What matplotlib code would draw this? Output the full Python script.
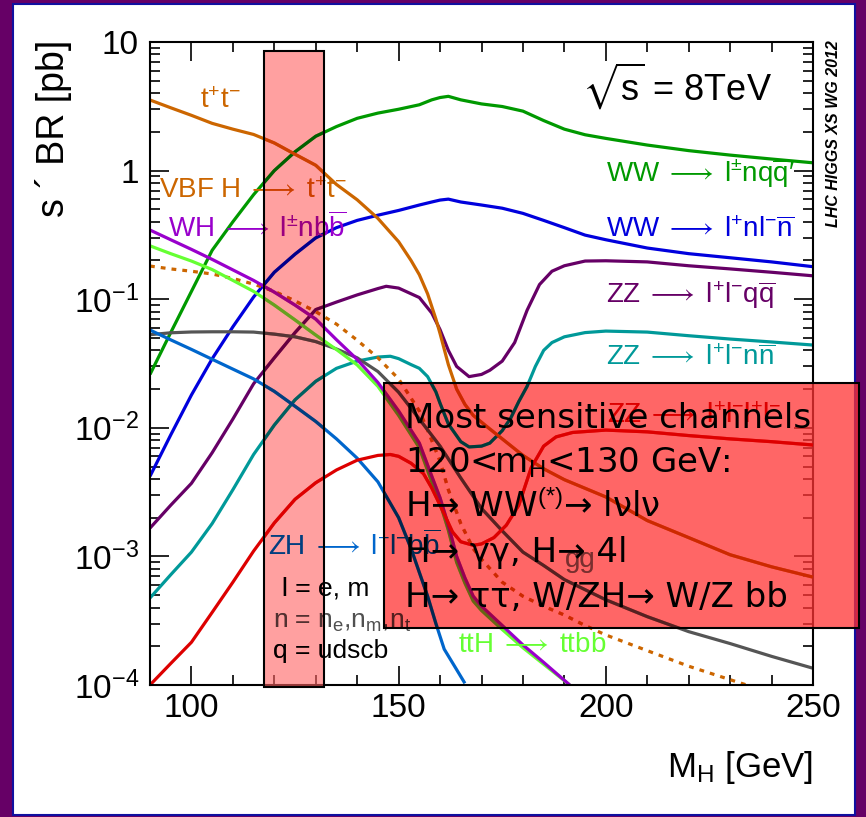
import numpy as np
import matplotlib
matplotlib.use("Agg")
import matplotlib.pyplot as plt
from matplotlib.patches import Rectangle
from matplotlib.ticker import LogLocator, NullFormatter, FixedLocator
import matplotlib.colors as mcolors

plt.rcParams['font.family'] = ['Liberation Sans', 'DejaVu Sans']
plt.rcParams['mathtext.fontset'] = 'custom'
plt.rcParams['mathtext.rm'] = 'Liberation Sans'
plt.rcParams['mathtext.it'] = 'Liberation Sans:italic'
plt.rcParams['mathtext.bf'] = 'Liberation Sans:bold'
plt.rcParams['mathtext.sf'] = 'Liberation Sans'
plt.rcParams['mathtext.fallback'] = 'stixsans'

# ---------------- data (sigma x BR in pb vs M_H in GeV) ----------------
m_wwqq = [90, 95, 100, 105, 110, 115, 120, 125, 130, 135, 140, 145, 150, 155, 158, 160, 162, 165,
          170, 175, 180, 185, 190, 195, 200, 210, 220, 230, 240, 250]
v_wwqq = [0.026, 0.055, 0.115, 0.24, 0.40, 0.65, 1.0, 1.40, 1.85, 2.2, 2.55, 2.8, 3.0, 3.25, 3.55, 3.7,
          3.78, 3.55, 3.3, 3.15, 2.9, 2.45, 2.1, 1.9, 1.78, 1.58, 1.43, 1.32, 1.23, 1.15]

m_wwll = m_wwqq
v_wwll = [0.0042, 0.0088, 0.018, 0.0344, 0.061, 0.104, 0.162, 0.224, 0.30, 0.36, 0.41, 0.45, 0.49,
          0.54, 0.57, 0.59, 0.60, 0.57, 0.54, 0.51, 0.465, 0.41, 0.36, 0.315, 0.29, 0.25, 0.226, 0.21,
          0.195, 0.179]

m_zzqq = [90, 95, 100, 105, 110, 115, 120, 125, 130, 135, 140, 145, 147, 150, 155, 158, 160, 162, 164,
          167, 170, 172, 175, 178, 181, 184, 187, 190, 195, 200, 210, 220, 230, 240, 250]
v_zzqq = [1.66e-3, 2.5e-3, 3.7e-3, 6.4e-3, 0.0117, 0.022, 0.035, 0.055, 0.083, 0.095, 0.108, 0.121,
          0.126, 0.122, 0.103, 0.078, 0.058, 0.040, 0.030, 0.025, 0.026, 0.028, 0.033, 0.046, 0.082,
          0.130, 0.165, 0.182, 0.198, 0.199, 0.195, 0.182, 0.172, 0.162, 0.152]

m_zznn = [90, 95, 100, 105, 110, 115, 120, 125, 130, 135, 140, 145, 148, 150, 153, 155, 157, 159, 160,
          162, 165, 167, 170, 172, 175, 177, 179, 181, 183, 185, 187, 190, 195, 200, 210, 220, 230,
          240, 250]
v_zznn = [4.75e-4, 7.2e-4, 1.08e-3, 1.8e-3, 3.3e-3, 6.2e-3, 0.0105, 0.0165, 0.023, 0.029, 0.033,
          0.0355, 0.036, 0.0345, 0.031, 0.029, 0.025, 0.019, 0.0155, 0.0107, 7.8e-3, 7.1e-3, 7.2e-3,
          7.6e-3, 9.5e-3, 0.0118, 0.016, 0.021, 0.030, 0.040, 0.046, 0.051, 0.055, 0.0565, 0.0555,
          0.052, 0.049, 0.0465, 0.044]

m_tautau = [90, 95, 100, 105, 110, 115, 120, 125, 130, 135, 140, 145, 150, 153, 155, 157, 159, 160,
            162, 164, 166, 168, 171, 175, 180, 185, 190, 200, 210, 220, 230, 240, 250]
v_tautau = [3.54, 3.08, 2.69, 2.33, 2.1, 1.91, 1.64, 1.34, 1.1, 0.78, 0.593, 0.425, 0.28, 0.2, 0.155,
            0.11, 0.07, 0.054, 0.031, 0.020, 0.0152, 0.0125, 0.0104, 8.2e-3, 6.1e-3, 4.8e-3, 3.95e-3,
            2.9e-3, 1.9e-3, 1.4e-3, 1.03e-3, 8.3e-4, 6.9e-4]

m_vbf = [90, 95, 100, 105, 110, 115, 120, 125, 130, 135, 140, 145, 150, 155, 157, 160, 162, 165, 168,
         170, 175, 180, 185, 190, 195, 200, 210, 220, 230, 234]
v_vbf = [0.181, 0.172, 0.165, 0.157, 0.145, 0.131, 0.115, 0.097, 0.080, 0.064, 0.048, 0.035, 0.024,
         0.0135, 9.6e-3, 5.5e-3, 3.3e-3, 1.8e-3, 1.15e-3, 9.5e-4, 6.3e-4, 4.9e-4, 4.1e-4, 3.5e-4,
         2.9e-4, 2.45e-4, 1.85e-4, 1.4e-4, 1.1e-4, 1.0e-4]

m_tth = [90, 95, 100, 105, 110, 115, 120, 125, 130, 135, 140, 145, 150, 155, 158, 160, 162, 164, 166,
         168, 170, 175, 180, 185, 191.3]
v_tth = [0.26, 0.226, 0.198, 0.170, 0.14, 0.115, 0.090, 0.069, 0.0526, 0.0406, 0.0308, 0.021, 0.0125,
         7.0e-3, 3.8e-3, 2.6e-3, 1.6e-3, 9.0e-4, 6.2e-4, 4.5e-4, 3.8e-4, 2.7e-4, 1.95e-4, 1.45e-4,
         1.0e-4]

m_wh = m_tth
v_wh = [0.345, 0.29, 0.244, 0.204, 0.169, 0.140, 0.1135, 0.090, 0.070, 0.0484, 0.034, 0.0225, 0.0135,
        7.6e-3, 4.2e-3, 2.85e-3, 1.75e-3, 1.0e-3, 6.8e-4, 4.9e-4, 4.1e-4, 2.9e-4, 2.05e-4, 1.5e-4,
        1.0e-4]

m_zh = [90, 95, 100, 105, 110, 115, 120, 125, 130, 135, 140, 145, 150, 153, 155, 157, 159, 161, 163.5, 166]
v_zh = [0.0576, 0.0483, 0.0407, 0.0341, 0.0286, 0.024, 0.0192, 0.0147, 0.0112, 8.2e-3, 5.8e-3,
        3.8e-3, 2.0e-3, 1.15e-3, 7.5e-4, 4.9e-4, 3.0e-4, 1.9e-4, 1.4e-4, 1.03e-4]

m_gg = [90, 95, 100, 105, 110, 115, 120, 125, 130, 135, 140, 145, 150, 155, 160, 165, 170, 175, 180,
        185, 190, 200, 210, 220, 230, 240, 250]
v_gg = [0.053, 0.0548, 0.0556, 0.0558, 0.0558, 0.0555, 0.0535, 0.051, 0.0468, 0.041, 0.035, 0.0274,
        0.0189, 0.0117, 7.2e-3, 4.07e-3, 2.36e-3, 1.58e-3, 1.08e-3, 8.5e-4, 6.6e-4, 4.6e-4, 3.4e-4,
        2.6e-4, 2.1e-4, 1.67e-4, 1.35e-4]

m_4l = [90, 95, 100, 105, 110, 115, 120, 125, 130, 135, 140, 145, 148, 150, 153, 156, 158, 160, 163,
        165, 168, 170, 173, 176, 179, 182, 185, 188, 192, 200, 210, 220, 230, 240, 250]
v_4l = [1.0e-4, 1.47e-4, 2.15e-4, 3.67e-4, 6.3e-4, 1.1e-3, 1.82e-3, 2.78e-3, 3.74e-3, 4.7e-3, 5.6e-3,
        6.1e-3, 6.2e-3, 6.0e-3, 5.3e-3, 4.4e-3, 3.4e-3, 2.5e-3, 1.55e-3, 1.3e-3, 1.22e-3, 1.25e-3,
        1.4e-3, 1.75e-3, 2.5e-3, 4.9e-3, 7.2e-3, 8.5e-3, 9.2e-3, 9.6e-3, 9.3e-3, 8.7e-3, 8.2e-3,
        7.8e-3, 7.35e-3]

# mass window band
band_lo, band_hi, band_top = 117.5, 132.0, 8.5

x_ticks = [100, 150, 200, 250]
x_tick_labels = ['100', '150', '200', '250']
y_ticks = [1e-4, 1e-3, 1e-2, 1e-1, 1, 10]
y_tick_labels = ['10$^{-4}$', '10$^{-3}$', '10$^{-2}$', '10$^{-1}$', '1', '10']

box_lines = ["Most sensitive channels",
             "120<m$_{\\mathrm{H}}$<130 GeV:",
             "H\u2192 WW$^{(*)}$\u2192 l\u03bdl\u03bd",
             "H\u2192 \u03b3\u03b3, H\u2192 4l",
             "H\u2192 \u03c4\u03c4, W/ZH\u2192 W/Z bb"]

ARR = '$\\;\\longrightarrow\\;$'

# ---------------- figure ----------------
W, H = 866, 817
fig = plt.figure(figsize=(W / 100, H / 100), dpi=100)
fig.patch.set_facecolor('#660066')
fig.add_artist(Rectangle((13 / W, 2 / H), 842 / W, 811 / H, transform=fig.transFigure,
                         facecolor='white', edgecolor='#1010a0', lw=1.5, zorder=-5))

ax = fig.add_axes([150 / W, (H - 685) / H, 663 / W, 643 / H])
ax.set_facecolor('white')

band_rgb = mcolors.to_rgb('#ffa0a0')
box_rgb = mcolors.to_rgb('#ff6666')


def mult(c, k):
    r = mcolors.to_rgb(c)
    return tuple(a * b for a, b in zip(r, k))


LW = 2.3
dot = (0, (1.5, 1.9))
curves = [
    (m_wwqq, v_wwqq, '#009900', '-'),
    (m_wwll, v_wwll, '#0000dd', '-'),
    (m_zzqq, v_zzqq, '#660066', '-'),
    (m_zznn, v_zznn, '#009999', '-'),
    (m_tautau, v_tautau, '#cc6600', '-'),
    (m_vbf, v_vbf, '#cc6600', dot),
    (m_gg, v_gg, '#555555', '-'),
    (m_zh, v_zh, '#0066cc', '-'),
    (m_tth, v_tth, '#66ff33', '-'),
    (m_wh, v_wh, '#9900cc', '-'),
    (m_4l, v_4l, '#dd0000', '-'),
]

for m, v, c, ls in curves:
    ax.plot(m, v, color=c, lw=LW, ls=ls, zorder=2, solid_capstyle='butt')

ax.set_yscale('log')
ax.set_xlim(90, 250)
ax.set_ylim(1e-4, 10)

# clip shapes
band_clip = Rectangle((band_lo, 0.97e-4), band_hi - band_lo, band_top - 0.97e-4, transform=ax.transData)
box_xy = (384 / W, (H - 628) / H)
box_w, box_h = (859 - 384) / W, (628 - 383) / H
box_clip = Rectangle(box_xy, box_w, box_h, transform=fig.transFigure)

# band face
ax.add_patch(Rectangle((band_lo, 0.97e-4), band_hi - band_lo, band_top - 0.97e-4, transform=ax.transData,
                       facecolor='#ff6161', alpha=0.6, edgecolor='none', zorder=4, clip_on=False))
# box face
ax.add_patch(Rectangle(box_xy, box_w, box_h, transform=fig.transFigure,
                       facecolor='#ff3333', alpha=0.75, edgecolor='none', zorder=10, clip_on=False))

# multiplied copies of curves seen through band / box
for m, v, c, ls in curves:
    for rgb, clip, z in ((band_rgb, band_clip, 5), (box_rgb, box_clip, 11)):
        ln, = ax.plot(m, v, color=mult(c, rgb), lw=LW, ls=ls, zorder=z, solid_capstyle='butt')
        ln.set_clip_path(clip)


def label(x, y, s, color, size=20, **kw):
    ax.text(x, y, s, color=color, fontsize=size, zorder=3, va='baseline', **kw)
    for rgb, clip, z in ((band_rgb, band_clip, 5), (box_rgb, box_clip, 11)):
        t = ax.text(x, y, s, color=mult(color, rgb), fontsize=size, zorder=z, va='baseline',
                    clip_on=True, **kw)
        t.set_clip_path(clip)


label(102.1, 3.08, 't$^{+}$t$^{-}$', '#cc6600')
label(92.25, 0.612, 'VBF H' + ARR + 't$^{+}$t$^{-}$', '#cc6600')
label(94.4, 0.303, 'WH' + ARR + 'l$^{\\pm}$nb$\\overline{\\mathrm{b}}$', '#9900cc')
label(200, 0.82, 'WW' + ARR + 'l$^{\\pm}$nq$\\overline{\\mathrm{q}}$\u2032', '#009900')
label(200, 0.303, 'WW' + ARR + 'l$^{+}$nl$^{-}$$\\overline{\\mathrm{n}}$', '#0000dd')
label(200, 0.0929, 'ZZ' + ARR + 'l$^{+}$l$^{-}$q$\\overline{\\mathrm{q}}$', '#660066')
label(200, 0.0308, 'ZZ' + ARR + 'l$^{+}$l$^{-}$n$\\overline{\\mathrm{n}}$', '#009999')
label(200.3, 0.0109, 'ZZ' + ARR + 'l$^{+}$l$^{-}$l$^{+}$l$^{-}$', '#dd0000')
label(190.1, 8.3e-4, 'gg', '#777777')
label(118.5, 1.03e-3, 'ZH' + ARR + 'l$^{+}$l$^{-}$b$\\overline{\\mathrm{b}}$', '#0066cc')
label(121.8, 5.0e-4, 'l = e, m', 'black', size=19)
label(119.8, 2.77e-4, 'n = n$_{\\mathrm{e}}$,n$_{\\mathrm{m}}$,n$_{\\mathrm{t}}$', '#505050', size=19)
label(119.8, 1.61e-4, 'q = udscb', 'black', size=19)
label(164.4, 1.82e-4, 'ttH' + ARR + 'ttbb', '#66ff33')

ax.text(240.2, 3.54, '$\\sqrt{\\mathrm{s}}$ = 8TeV', fontsize=26, ha='right', va='baseline',
        color='black', zorder=3)

# band / box edges
ax.add_patch(Rectangle((band_lo, 0.97e-4), band_hi - band_lo, band_top - 0.97e-4, transform=ax.transData,
                       facecolor='none', edgecolor='black', lw=1.5, zorder=6, clip_on=False))
ax.add_patch(Rectangle(box_xy, box_w, box_h, transform=fig.transFigure,
                       facecolor='none', edgecolor='black', lw=1.5, zorder=12, clip_on=False))

# ticks
ax.set_xticks(x_ticks)
ax.set_xticklabels(x_tick_labels)
ax.xaxis.set_minor_locator(FixedLocator(np.arange(90, 251, 10)))
ax.set_yticks(y_ticks)
ax.set_yticklabels(y_tick_labels)
ax.yaxis.set_minor_locator(LogLocator(base=10, subs=np.arange(2, 10), numticks=30))
ax.yaxis.set_minor_formatter(NullFormatter())
ax.tick_params(which='both', direction='in', top=True, right=True, width=1.2, colors='black')
ax.tick_params(which='major', length=14, labelsize=24)
ax.tick_params(axis='x', which='major', pad=6)
ax.tick_params(axis='y', which='major', pad=8)
ax.tick_params(which='minor', length=7)
for sp in ax.spines.values():
    sp.set_linewidth(1.5)

ax.set_xlabel('M$_{\\mathrm{H}}$ [GeV]', fontsize=25, loc='right')
ax.xaxis.set_label_coords(1.0, -0.10)

fig.text(54 / W, (H - 40) / H, 's \u00b4 BR [pb]', rotation=90, ha='center', va='top', fontsize=27)
fig.text(834 / W, (H - 40) / H, 'LHC HIGGS XS WG 2012', rotation=90, ha='center', va='top',
         fontsize=11.5, fontweight='bold', style='italic')

# box text
baselines = [428, 473, 517, 562, 607]
for s, b in zip(box_lines, baselines):
    fig.text(405 / W, (H - b) / H, s, fontsize=24.5, family=['DejaVu Sans'], va='baseline',
             ha='left', color='black', zorder=20)

fig.savefig('out.png', dpi=100, facecolor=fig.get_facecolor())
